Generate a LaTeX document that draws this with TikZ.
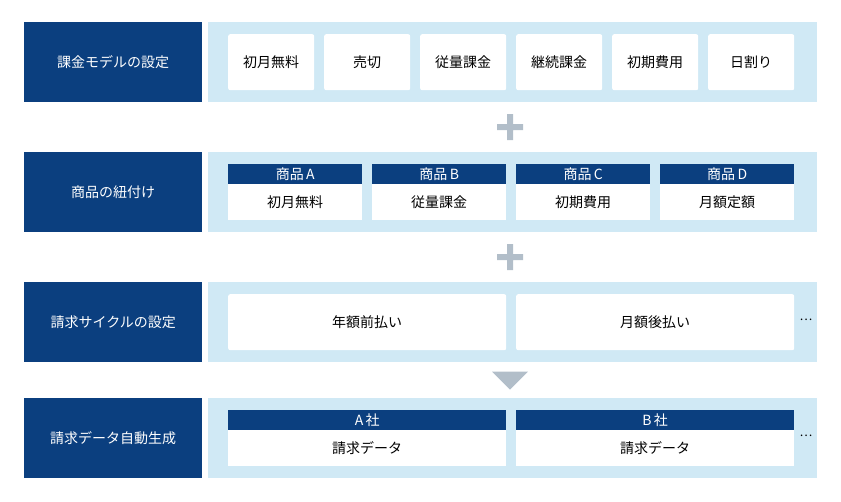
\documentclass[tikz,border=0pt]{standalone}
\usepackage{fontspec}
\setmainfont{Noto Sans CJK JP}
\usetikzlibrary{positioning,shapes.geometric}
\definecolor{navy}{HTML}{0B3F7F}
\definecolor{panel}{HTML}{D0E9F5}
\definecolor{signgray}{HTML}{B2BEC9}
\begin{document}
\begin{tikzpicture}[x=1pt,y=-1pt,font=\fontsize{14}{16}\selectfont]
\tikzstyle{title}=[fill=navy,text=white,minimum width=178,minimum height=80,inner sep=0pt,anchor=north west]
\tikzstyle{band}=[fill=panel,minimum width=609,minimum height=80,inner sep=0pt,anchor=north west]
\tikzstyle{card}=[fill=white,rounded corners=2,minimum height=56,inner sep=0pt,anchor=north west]
\tikzstyle{head}=[fill=navy,text=white,minimum height=20,inner sep=0pt,anchor=north west]
\tikzstyle{body}=[fill=white,minimum height=36,inner sep=0pt,anchor=north west]
\useasboundingbox (0,0) rectangle (841,501);
% rows
\foreach \name/\y/\text in {
	r1/22/課金モデルの設定,
	r2/152/商品の紐付け,
	r3/282/請求サイクルの設定,
	r4/398/請求データ自動生成} {
	\node[title] (\name) at (24,\y) {\text};
	\node[band] (\name p) at (208,\y) {};
}
% billing models
\foreach \i/\x/\text in {1/228/初月無料,2/324/売切,3/420/従量課金,4/516/継続課金,5/612/初期費用,6/708/日割り}
	\node[card,minimum width=86] (m\i) at (\x,34) {\text};
% products
\foreach \i/\x/\p/\text in {1/228/A/初月無料,2/372/B/従量課金,3/516/C/初期費用,4/660/D/月額定額} {
	\node[head,minimum width=134] (p\i) at (\x,164) {商品\,\p};
	\node[body,minimum width=134] (q\i) at (\x,184) {\text};
}
% cycles
\node[card,minimum width=278] (c1) at (228,294) {年額前払い};
\node[card,minimum width=278] (c2) at (516,294) {月額後払い};
\node (c3) at (806,320) {\fontsize{12}{14}\selectfont\dots};
% data
\foreach \i/\x/\p in {1/228/A,2/516/B} {
	\node[head,minimum width=278] (d\i) at (\x,410) {\p\,社};
	\node[body,minimum width=278] (e\i) at (\x,430) {請求データ};
}
\node (d3) at (806,436) {\fontsize{12}{14}\selectfont\dots};
% plus signs and arrow
\foreach \y in {127,257}
	\fill[signgray] (497,\y-3) rectangle (523,\y+3) (507,\y-13) rectangle (513,\y+13);
\node[fill=signgray,isosceles triangle,shape border rotate=-90,isosceles triangle apex angle=90,minimum width=36,minimum height=18,inner sep=0pt] (arr) at (510,379) {};
\end{tikzpicture}
\end{document}
